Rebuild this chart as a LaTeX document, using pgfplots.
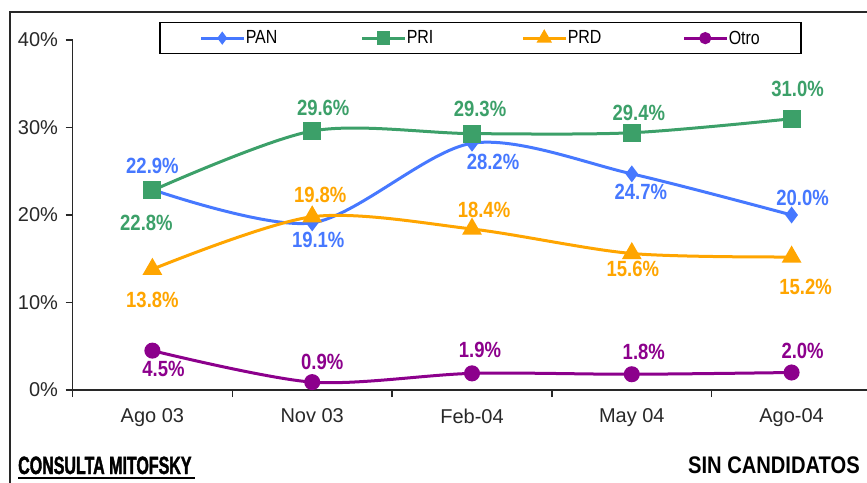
\documentclass[border=0pt]{standalone}
\usepackage{fontspec}
\setmainfont{Liberation Sans}
\newfontfamily\labfont[FakeStretch=0.84]{Liberation Sans}
\newfontfamily\heavy[FakeStretch=0.64,FakeBold=1.5]{Liberation Sans}
\usepackage{pgfplots}
\usepackage{pgfplotstable}
\pgfplotsset{compat=1.18}

\definecolor{panc}{RGB}{70,120,255}
\definecolor{pric}{RGB}{60,160,105}
\definecolor{prdc}{RGB}{255,165,0}
\definecolor{otroc}{RGB}{140,0,140}
\definecolor{axc}{RGB}{40,40,40}

\pgfplotstableread{
x y dx dy
0 22.9 0 24
1 19.1 6 -17
2 28.2 21 -19
3 24.7 9 -18
4 20.0 11 17
}\pan
\pgfplotstableread{
x y dx dy
0 22.8 -6 -32
1 29.6 11 23
2 29.3 8 25
3 29.4 7 20
4 31.0 6 30
}\pri
\pgfplotstableread{
x y dx dy
0 13.8 0 -31
1 19.8 8 22
2 18.4 12 19
3 15.6 1 -15
4 15.2 14 -30
}\prd
\pgfplotstableread{
x y dx dy
0 4.5 11 -18
1 0.9 10 20
2 1.9 8 23
3 1.8 12 22
4 2.0 11 22
}\otro

\pgfplotsset{
  lab/.style={
    point meta=y,
    visualization depends on={\thisrow{dx}\as\dx},
    visualization depends on={\thisrow{dy}\as\dy},
    nodes near coords={\pgfmathprintnumber[fixed,fixed zerofill,precision=1]{\pgfplotspointmeta}\%},
    every node near coord/.append style={font=\labfont\bfseries\fontsize{22}{26}\selectfont, text=#1, anchor=center, inner sep=0pt, xshift=\dx pt, yshift=\dy pt},
  }
}

\begin{document}
\begin{tikzpicture}[x=1pt,y=1pt]
\useasboundingbox (0,0) rectangle (867,482);
\draw[line width=1.3pt, axc] (10,-5) -- (10,470) -- (880,470);
\begin{axis}[
  at={(72.5pt,92pt)}, anchor=south west,
  scale only axis, width=799pt, height=350pt,
  xmin=-0.5, xmax=4.5, ymin=0, ymax=40,
  axis x line*=bottom, axis y line*=left,
  axis line style={-, line width=1.3pt, axc},
  xtick={-0.5,0.5,1.5,2.5,3.5,4.5}, xticklabels={},
  extra x ticks={0,1,2,3,4},
  extra x tick labels={Ago 03,Nov 03,Feb-04,May 04,Ago-04},
  extra x tick style={major tick length=0pt, grid=none},
  ytick={0,10,20,30,40},
  yticklabel={\pgfmathprintnumber{\tick}\%},
  /pgf/number format/assume math mode=true,
  tick align=outside, major tick length=7pt,
  tick style={line width=1.3pt, axc},
  ticklabel style={font=\fontsize{20}{24}\selectfont, text=axc},
  xticklabel style={yshift=-15pt},
  yticklabel style={xshift=-4pt},
  clip=false,
  legend columns=4,
  legend style={at={(0,1)}, anchor=north west, xshift=86.5pt, yshift=18pt,
    draw=black, line width=1.5pt, inner xsep=40pt, inner ysep=7pt,
    font=\labfont\fontsize{19}{22}\selectfont,
    nodes={inner sep=1pt},
    /tikz/every even column/.append style={column sep=0pt}},
  legend cell align=left,
  legend image code/.code={\draw[mark repeat=2,mark phase=2,#1] plot coordinates {(0pt,0pt) (21pt,0pt) (42pt,0pt)};},
  legend image post style={every mark/.append style={scale=0.7}},
]
\addplot[color=panc, line width=3pt, smooth, mark=diamond*, mark size=6pt, mark options={solid, fill=panc}, lab=panc] table[x=x,y=y] {\pan};
\addlegendentry{\makebox[114pt][l]{PAN}}
\addplot[color=pric, line width=3pt, smooth, mark=square*, mark size=7.5pt, mark options={solid, fill=pric}, lab=pric] table[x=x,y=y] {\pri};
\addlegendentry{\makebox[114pt][l]{PRI}}
\addplot[color=prdc, line width=3pt, smooth, mark=triangle*, mark size=8.5pt, mark options={solid, fill=prdc}, lab=prdc] table[x=x,y=y] {\prd};
\addlegendentry{\makebox[114pt][l]{PRD}}
\addplot[color=otroc, line width=3pt, smooth, mark=*, mark size=6.5pt, mark options={solid, fill=otroc}, lab=otroc] table[x=x,y=y] {\otro};
\addlegendentry{Otro}
\end{axis}
\node[anchor=base west, inner sep=0pt] at (18,8) {\heavy\bfseries\fontsize{25}{28}\selectfont CONSULTA MITOFSKY};
\draw[line width=1.5pt] (18,4) -- (195,4);
\node[anchor=base east, inner sep=0pt] at (860,9) {\labfont\bfseries\fontsize{24}{28}\selectfont SIN CANDIDATOS};
\end{tikzpicture}
\end{document}
